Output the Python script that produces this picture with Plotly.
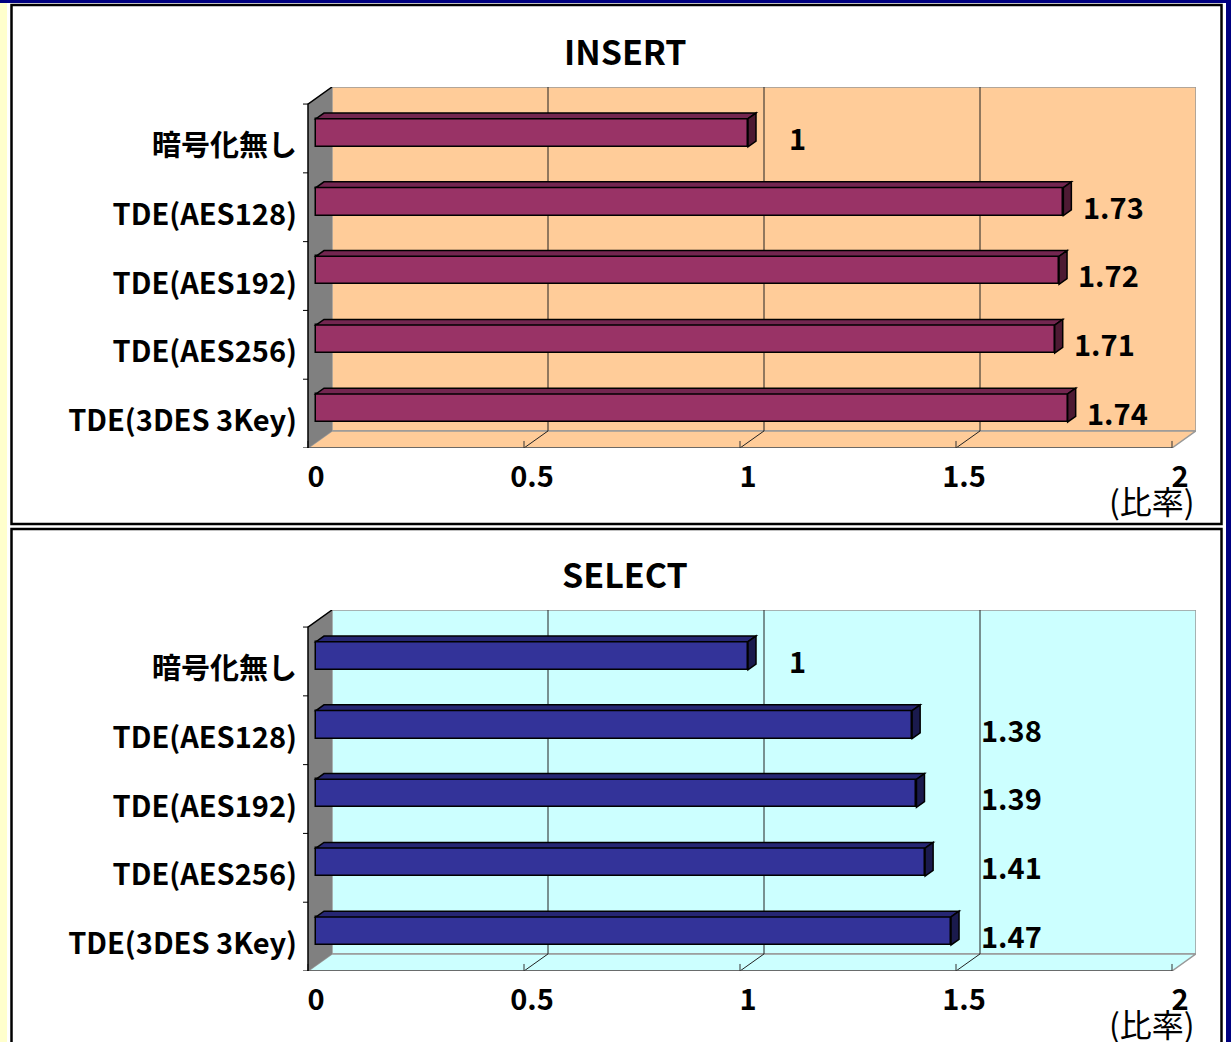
import plotly.graph_objects as go

# ---------------- data ----------------
categories = ["暗号化無し", "TDE(AES128)", "TDE(AES192)", "TDE(AES256)", "TDE(3DES 3Key)"]
insert_values = [1, 1.73, 1.72, 1.71, 1.74]
select_values = [1, 1.38, 1.39, 1.41, 1.47]
x_ticks = [0, 0.5, 1, 1.5, 2]
panel_titles = ["INSERT", "SELECT"]
unit_label = "(比率)"

# ---------------- styling / geometry ----------------
W, H = 1231, 1042
FONT = "Noto Sans CJK JP"
PX_LEFT, PX_FRONT_LEFT, PX_RIGHT = 300, 308, 1196
PX_TOP, PX_BOT = 87, 448
PANEL_SHIFT = 523
PX_PER_UNIT = 432.0
PX_PER_CAT = 68.6
STEP_X, STEP_Y = 8.0, 5.67

DX = STEP_X / PX_PER_UNIT
DY = STEP_Y / PX_PER_CAT
XMAX = max(x_ticks)
n = len(categories)
BAR_W = 28 / PX_PER_CAT
EXTRA_L = (PX_FRONT_LEFT - PX_LEFT) / PX_PER_UNIT

x_range = [-DX - EXTRA_L, XMAX + 2 * DX]
y_range = [n - 0.5 + DY, -0.5 - 2 * DY]

styles = [
    dict(wall="#FFCC99", front="#993366", top="#732650", end="#4D1A33"),
    dict(wall="#CCFFFF", front="#333399", top="#262673", end="#1A1A4D"),
]
# data-label anchor positions (x, in axis units) as placed in the original chart
label_offset = 0.115
select_label_anchor = 1.61
LABEL_DY = 4 / PX_PER_CAT
YLABEL_SHIFT = 0.19


def label_positions(k, values):
    if k == 0:
        return [v + label_offset for v in values]
    # in the SELECT panel the labels of the longer bars sit right of the 1.5 gridline
    return [v + label_offset if v + label_offset < 1.3 else max(v + label_offset, select_label_anchor)
            for v in values]


def P(v, c, d):
    """point at value v, category coord c, depth d (0=front, 1=bar face, 3=back wall)"""
    return (v + (d - 1) * DX, c + (1 - d) * DY)


def path(pts, close=True):
    s = "M " + " L ".join(f"{x:.5f},{y:.5f}" for x, y in pts)
    return s + (" Z" if close else "")


def px(xp):
    return xp / W


def py(yp):
    return 1 - yp / H


fig = go.Figure()
shapes = []
annotations = []

# page decorations (paper coords)
shapes.append(dict(type="rect", xref="paper", yref="paper", x0=0, x1=px(7), y0=0, y1=1,
                   fillcolor="#FFFFCC", line=dict(width=0), layer="below"))
shapes.append(dict(type="rect", xref="paper", yref="paper", x0=0, x1=1, y0=py(3), y1=1,
                   fillcolor="#000080", line=dict(width=0), layer="below"))
shapes.append(dict(type="rect", xref="paper", yref="paper", x0=px(1226), x1=1, y0=0, y1=1,
                   fillcolor="#000080", line=dict(width=0), layer="below"))
for (t, b) in [(5, 524), (529, 1060)]:
    shapes.append(dict(type="rect", xref="paper", yref="paper", x0=px(11.5), x1=px(1221.5),
                       y0=py(b), y1=py(t), fillcolor="rgba(0,0,0,0)",
                       line=dict(color="black", width=2.5), layer="below"))

for k, (title, values, st) in enumerate(zip(panel_titles, [insert_values, select_values], styles)):
    sfx = "" if k == 0 else str(k + 1)
    xr, yr = "x" + sfx, "y" + sfx
    shift = k * PANEL_SHIFT
    ypos = list(range(n))

    fig.add_trace(go.Bar(
        x=values, y=ypos, orientation="h", width=BAR_W,
        marker=dict(color=st["front"], line=dict(color="black", width=1.5)),
        xaxis=xr, yaxis=yr, showlegend=False, hoverinfo="skip",
    ))

    fig.update_layout(**{
        "xaxis" + sfx: dict(domain=[px(PX_LEFT), px(PX_RIGHT)], range=x_range, anchor=yr,
                            tickvals=x_ticks, ticktext=[f"{t:g}" for t in x_ticks],
                            showgrid=False, zeroline=False, showline=False, ticks="",
                            ticklabelstandoff=9,
                            tickfont=dict(family=FONT, size=29, color="black", weight="bold")),
        "yaxis" + sfx: dict(domain=[py(PX_BOT + shift), py(PX_TOP + shift)], range=y_range,
                            anchor=xr, tickvals=[i + YLABEL_SHIFT for i in ypos],
                            ticktext=categories, showgrid=False, zeroline=False,
                            showline=False, ticks="", ticklabelstandoff=2,
                            tickfont=dict(family=FONT, size=29, color="black", weight="bold")),
    })

    def add(pts, fill=None, color=None, width=1, layer="below", close=True):
        shapes.append(dict(type="path", xref=xr, yref=yr, path=path(pts, close),
                           fillcolor=fill if fill else "rgba(0,0,0,0)",
                           line=dict(color=color if color else "rgba(0,0,0,0)",
                                     width=width if color else 0),
                           layer=layer))

    top_c, bot_c = -0.5, n - 0.5
    # back wall
    add([P(0, top_c, 3), P(XMAX, top_c, 3), P(XMAX, bot_c, 3), P(0, bot_c, 3)],
        fill=st["wall"], color="#999999", width=1.5)
    # floor
    add([P(0, bot_c, 0), P(XMAX, bot_c, 0), P(XMAX, bot_c, 3), P(0, bot_c, 3)],
        fill=st["wall"], color="#999999", width=1.5)
    # side wall
    add([P(0, top_c, 0), P(0, top_c, 3), P(0, bot_c, 3), P(0, bot_c, 0)], fill="#808080")
    # gridlines on wall + floor
    for t in x_ticks[1:-1]:
        add([P(t, top_c, 3), P(t, bot_c, 3), P(t, bot_c, 0)], color="#222222", width=1, close=False)
    # front floor edge
    add([P(0, bot_c, 0), P(XMAX, bot_c, 0)], color="#555555", width=1.5, close=False)
    # front ticks
    for t in x_ticks:
        x0, y0 = P(t, bot_c, 0)
        add([(x0, y0), (x0, y0 - 7 / PX_PER_CAT)], color="#333333", width=1, close=False)
    # side wall outline
    add([P(0, bot_c, 0), P(0, top_c, 0), P(0, top_c, 3)], color="black", width=1.5, close=False)
    for b in range(n + 1):
        x0, y0 = P(0, b - 0.5, 0)
        add([(x0, y0), (x0 - 5 / PX_PER_UNIT, y0)], color="black", width=1, close=False)

    # 3D bar faces + value labels
    lx = label_positions(k, values)
    for i, v in enumerate(values):
        c0, c1 = i - BAR_W / 2, i + BAR_W / 2
        add([P(0, c0, 1), P(v, c0, 1), P(v, c0, 2), P(0, c0, 2)],
            fill=st["top"], color="black", width=1.5, layer="above")
        add([P(v, c0, 1), P(v, c0, 2), P(v, c1, 2), P(v, c1, 1)],
            fill=st["end"], color="black", width=1.5, layer="above")
        annotations.append(dict(
            x=lx[i], y=i + LABEL_DY, xref=xr, yref=yr,
            text=f"{v:g}", showarrow=False, xanchor="center", yanchor="middle",
            font=dict(family=FONT, size=29, color="black", weight="bold")))

    annotations.append(dict(x=px(625), y=py(50 + shift), xref="paper", yref="paper",
                            text=title, showarrow=False, xanchor="center", yanchor="middle",
                            font=dict(family=FONT, size=34, color="black", weight="bold")))
    annotations.append(dict(x=px(1152), y=py(500 + shift), xref="paper", yref="paper",
                            text=unit_label, showarrow=False, xanchor="center", yanchor="middle",
                            font=dict(family=FONT, size=32, color="black")))

fig.update_layout(
    width=W, height=H, margin=dict(l=0, r=0, t=0, b=0),
    paper_bgcolor="white", plot_bgcolor="rgba(0,0,0,0)",
    shapes=shapes, annotations=annotations, bargap=0, showlegend=False,
)
fig.write_html("out.html")
